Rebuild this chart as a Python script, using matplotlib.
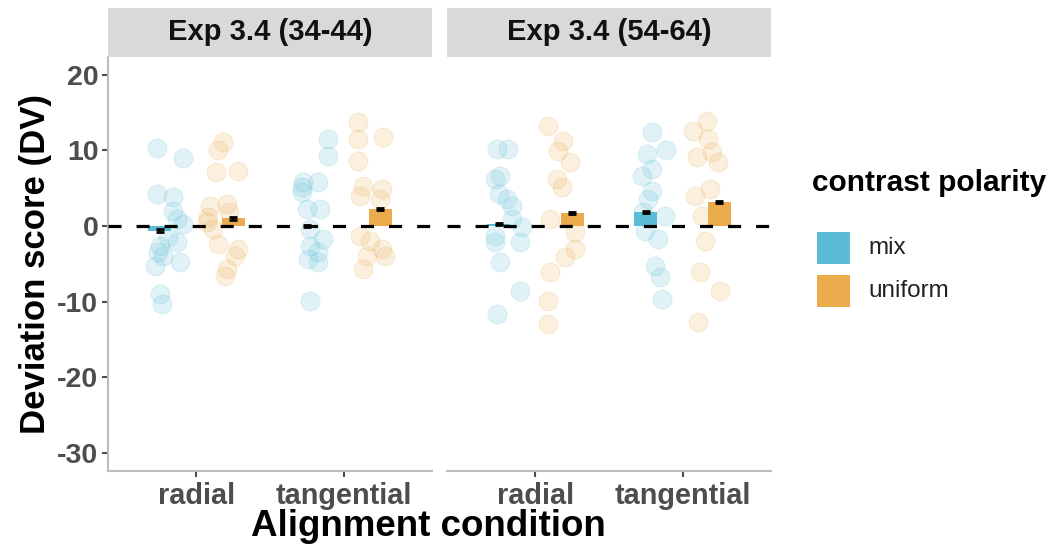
import matplotlib
matplotlib.use("Agg")
import matplotlib.pyplot as plt
from matplotlib.patches import Rectangle
import numpy as np

plt.rcParams['font.family'] = ['Liberation Sans', 'DejaVu Sans']
plt.rcParams['lines.scale_dashes'] = False

# ---------------- data ----------------
panels = ["Exp 3.4 (34-44)", "Exp 3.4 (54-64)"]
conditions = ["radial", "tangential"]
groups = ["mix", "uniform"]
colors = {"mix": "#5BBCD6", "uniform": "#E9AB4C"}

# bar means and standard errors: [panel][condition][group]
bar_means = {
    "Exp 3.4 (34-44)": {"radial": {"mix": -0.6, "uniform": 1.0},
                        "tangential": {"mix": 0.05, "uniform": 2.25}},
    "Exp 3.4 (54-64)": {"radial": {"mix": 0.25, "uniform": 1.7},
                        "tangential": {"mix": 1.9, "uniform": 3.2}},
}
bar_se = {
    "Exp 3.4 (34-44)": {"radial": {"mix": 0.15, "uniform": 0.15},
                        "tangential": {"mix": 0.12, "uniform": 0.15}},
    "Exp 3.4 (54-64)": {"radial": {"mix": 0.12, "uniform": 0.15},
                        "tangential": {"mix": 0.15, "uniform": 0.15}},
}

# individual scores (values) and their horizontal jitter
L_rad_mix = [10.3, 9.0, 4.2, 3.8, 2.0, 0.9, 0.3, -1.5, -2.1, -2.6, -3.5, -4.0, -5.3, -4.8, -9.0, -10.3]
L_rad_mix_j = [-0.015, 0.16, -0.015, 0.094, 0.094, 0.12, 0.16, 0.06, 0.12, 0.005, -0.008, 0.026, -0.03, 0.14, 0.005, 0.02]
L_rad_uni = [11.1, 10.0, 7.1, 7.3, 2.6, 2.9, 1.2, 1.9, -0.4, -2.4, -3.0, -4.0, -5.7, -6.6, 0.5]
L_rad_uni_j = [-0.067, -0.10, -0.12, 0.03, -0.155, -0.04, -0.17, -0.03, -0.135, -0.10, 0.03, 0.015, -0.04, -0.055, -0.175]
L_tan_mix = [11.5, 9.3, 5.8, 5.8, 4.5, 2.3, 2.3, -0.4, -1.7, -2.6, -3.5, -4.4, -4.8, -9.9, 5.2]
L_tan_mix_j = [0.145, 0.145, -0.025, 0.077, -0.03, 0.0, 0.09, 0.02, 0.11, 0.02, 0.077, 0.01, 0.077, 0.02, -0.03]
L_tan_uni = [13.8, 11.5, 11.8, 8.6, 5.3, 4.9, 4.0, 3.6, -1.3, -2.0, -3.0, -4.0, -5.7, -4.0]
L_tan_uni_j = [-0.15, -0.15, 0.02, -0.15, -0.12, 0.01, -0.14, 0.0, -0.14, -0.07, 0.01, 0.03, -0.12, -0.09]
R_rad_mix = [10.2, 10.2, 6.2, 6.6, 4.2, 2.6, 3.6, 0.9, -0.1, -2.1, -2.1, -4.8, -8.6, -11.7, -1.3]
R_rad_mix_j = [-0.01, 0.064, -0.025, 0.01, 0.0, 0.09, 0.057, 0.09, 0.16, -0.025, 0.145, 0.01, 0.145, -0.01, -0.025]
R_rad_uni = [13.2, 11.3, 9.9, 8.5, 6.2, 5.2, 0.9, -0.8, -3.0, -4.1, -6.1, -9.9, -13.0]
R_rad_uni_j = [-0.165, -0.06, -0.096, -0.015, -0.10, -0.07, -0.15, 0.02, 0.02, -0.05, -0.15, -0.165, -0.165]
R_tan_mix = [12.4, 10.0, 9.5, 7.5, 6.6, 4.6, 3.6, 1.3, 1.9, -0.6, -1.7, -5.3, -6.8, -9.7]
R_tan_mix_j = [0.04, 0.14, 0.007, 0.04, -0.026, 0.04, 0.014, 0.13, -0.02, -0.006, 0.08, 0.06, 0.096, 0.11]
R_tan_uni = [13.9, 12.6, 11.5, 9.8, 8.5, 9.1, 4.0, 4.9, 1.3, -2.0, -6.1, -8.6, -12.7]
R_tan_uni_j = [-0.085, -0.18, -0.08, -0.05, -0.01, -0.15, -0.165, -0.065, -0.12, -0.1, -0.13, 0.003, -0.146]

points = {
    "Exp 3.4 (34-44)": {"radial": {"mix": (L_rad_mix, L_rad_mix_j), "uniform": (L_rad_uni, L_rad_uni_j)},
                        "tangential": {"mix": (L_tan_mix, L_tan_mix_j), "uniform": (L_tan_uni, L_tan_uni_j)}},
    "Exp 3.4 (54-64)": {"radial": {"mix": (R_rad_mix, R_rad_mix_j), "uniform": (R_rad_uni, R_rad_uni_j)},
                        "tangential": {"mix": (R_tan_mix, R_tan_mix_j), "uniform": (R_tan_uni, R_tan_uni_j)}},
}

yticks = [20, 10, 0, -10, -20, -30]

# ---------------- figure ----------------
W, H = 1051, 554
fig = plt.figure(figsize=(W / 100, H / 100), dpi=100)

def fx(px):
    return px / W

def fy(py):
    return 1 - py / H

ax_left = [108, 447]
ax_w = 324
ax_top, ax_bot = 57, 471
dodge = {"mix": -0.25, "uniform": 0.25}
bar_w = 0.155
spine_col = "#BDBDBD"

axes = []
for i, panel in enumerate(panels):
    ax = fig.add_axes([fx(ax_left[i]), fy(ax_bot), ax_w / W, (ax_bot - ax_top) / H])
    axes.append(ax)
    for ci, cond in enumerate(conditions):
        for g in groups:
            vals, jit = points[panel][cond][g]
            xs = ci + dodge[g] + np.array(jit)
            ax.scatter(xs, vals, s=185, color=colors[g], alpha=0.18,
                       edgecolors=colors[g], linewidths=0.8, zorder=1)
            m = bar_means[panel][cond][g]
            ax.bar(ci + dodge[g], m, width=bar_w, color=colors[g], zorder=2)
            ax.errorbar(ci + dodge[g], m, yerr=bar_se[panel][cond][g], color="black",
                        capsize=3.2, elinewidth=1.5, capthick=2.0, fmt="none", zorder=4)
    ax.axhline(0, color="black", linewidth=2.3, dashes=(9.4, 10.8), zorder=3)
    ax.set_xlim(-0.6, 1.6)
    ax.set_ylim(-32.4, 22.35)
    ax.set_xticks(range(len(conditions)))
    ax.set_xticklabels(conditions, fontsize=20.8, fontweight="bold", color="#4D4D4D")
    ax.set_yticks(yticks)
    for s in ["top", "right"]:
        ax.spines[s].set_visible(False)
    ax.spines["bottom"].set_color(spine_col)
    ax.spines["bottom"].set_linewidth(1.5)
    ax.tick_params(axis="x", length=4, width=1.5, color="#4D4D4D", pad=4)
    if i == 0:
        ax.spines["left"].set_color(spine_col)
        ax.spines["left"].set_linewidth(1.5)
        ax.set_yticklabels([str(t) for t in yticks], fontsize=20.5, fontweight="bold", color="#4D4D4D")
        ax.tick_params(axis="y", length=4, width=1.5, color="#4D4D4D", pad=3)
    else:
        ax.spines["left"].set_visible(False)
        ax.tick_params(axis="y", left=False, labelleft=False)

    # strip
    sx = ax_left[i]
    fig.add_artist(Rectangle((fx(sx), fy(57)), ax_w / W, 49 / H, transform=fig.transFigure,
                             facecolor="#D9D9D9", edgecolor="none"))
    fig.text(fx(sx + ax_w / 2), fy(32.5), panel, ha="center", va="center",
             fontsize=21, fontweight="bold", color="#111111")

# axis titles
fig.text(fx(36), fy(264), "Deviation score (DV)", rotation=90, ha="center", va="center",
         fontsize=25, fontweight="bold", color="black")
fig.text(fx(428), fy(527), "Alignment condition", ha="center", va="center",
         fontsize=26.5, fontweight="bold", color="black")

# legend
fig.text(fx(812), fy(183), "contrast polarity", ha="left", va="center",
         fontsize=21.5, fontweight="bold", color="black")
for k, g in enumerate(groups):
    top = 232 + k * 43
    fig.add_artist(Rectangle((fx(817), fy(top + 32)), 33 / W, 32 / H, transform=fig.transFigure,
                             facecolor=colors[g], edgecolor="none"))
    fig.text(fx(868), fy(top + 16), g, ha="left", va="center", fontsize=17.5, color="#222222")

fig.savefig("out.png", dpi=100)
